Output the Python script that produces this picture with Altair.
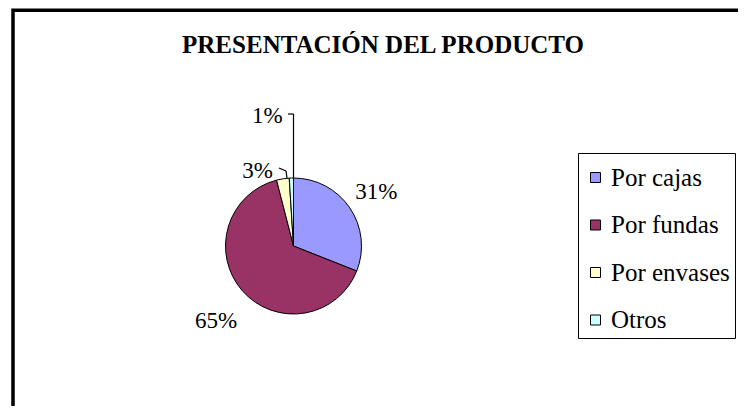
import math
import altair as alt
import pandas as pd

# ---- data ----
categories = ["Por cajas", "Por fundas", "Por envases", "Otros"]
values = [31, 65, 3, 1]
colors = ["#9999FF", "#993366", "#FFFFCC", "#CCFFFF"]
title_text = "PRESENTACIÓN DEL PRODUCTO"

df = pd.DataFrame({
    "cat": categories,
    "value": values,
    "idx": list(range(len(categories))),
    "lbl": [f"{v}%" for v in values],
})
total = sum(values)

W, H = 730, 398
CX, CY = 285.5, 238
R = 68
SERIF = "'Liberation Serif', 'Times New Roman', Times, serif"

theta_scale = alt.Scale(domain=[0, total], range=[0, 2 * math.pi])
color_scale = alt.Scale(domain=categories, range=colors)

base = (
    alt.Chart(df)
    .transform_window(cum="sum(value)", sort=[alt.SortField("idx")], frame=[None, 0])
    .transform_calculate(start="datum.cum - datum.value", mid="datum.cum - datum.value / 2")
)

one = base.transform_filter(alt.datum.idx == 0)

frame = one.mark_rect(filled=False, stroke="black", strokeWidth=3.5).encode(
    x=alt.value(5), x2=alt.value(800), y=alt.value(2.3), y2=alt.value(700)
)

title = one.mark_text(
    text=title_text, font=SERIF, fontSize=25, fontWeight="bold", color="black",
    align="center", baseline="alphabetic"
).encode(x=alt.value(375), y=alt.value(45))

arcs = base.mark_arc(radius=R, stroke="black", strokeWidth=1).encode(
    theta=alt.Theta("start:Q", scale=theta_scale),
    theta2="cum:Q",
    color=alt.Color(
        "cat:N", scale=color_scale, sort=categories,
        legend=alt.Legend(
            title=" ", titleFontSize=5, titlePadding=2, titleFont=SERIF,
            orient="none", legendX=570, legendY=145, direction="vertical",
            symbolType="square", symbolSize=100, symbolStrokeColor="black",
            symbolStrokeWidth=1, symbolOpacity=1,
            labelFont=SERIF, labelFontSize=25, labelColor="black",
            labelOffset=3, labelLimit=400, rowPadding=21.5,
            padding=5, strokeColor="black", fillColor="white",
        ),
    ),
    x=alt.value(CX), y=alt.value(CY),
)


def label(cat, radius, dx, dy):
    return base.transform_filter(alt.datum.cat == cat).mark_text(
        radius=radius, dx=dx, dy=dy, font=SERIF, fontSize=23, color="black",
        align="center", baseline="middle",
    ).encode(
        theta=alt.Theta("mid:Q", scale=theta_scale),
        text="lbl:N",
        x=alt.value(CX), y=alt.value(CY),
    )


labels = [
    label("Por cajas", 100, 0, 2),
    label("Por fundas", 106, 2, 5),
    label("Por envases", 82, -23, 6),
    label("Otros", 130, -22, 0),
]


def rule(x1, y1, x2, y2):
    return one.mark_rule(color="black", strokeWidth=1.2).encode(
        x=alt.value(x1), y=alt.value(y1), x2=alt.value(x2), y2=alt.value(y2)
    )


leaders = [
    rule(280, 106, 285.5, 106),
    rule(285.5, 106, 285.5, 170),
    rule(271, 160, 278, 163),
    rule(278, 163, 279, 170),
]

chart = (
    alt.layer(frame, title, arcs, *labels, *leaders)
    .properties(
        width=W, height=H, padding=0, autosize=alt.AutoSizeParams(type="none"),
        background="white",
    )
    .configure(font=SERIF)
    .configure_legend(labelFont=SERIF, titleFont=SERIF)
    .configure_view(strokeWidth=0)
)

chart.save("out.html", embed_options={"renderer": "svg", "actions": False})
